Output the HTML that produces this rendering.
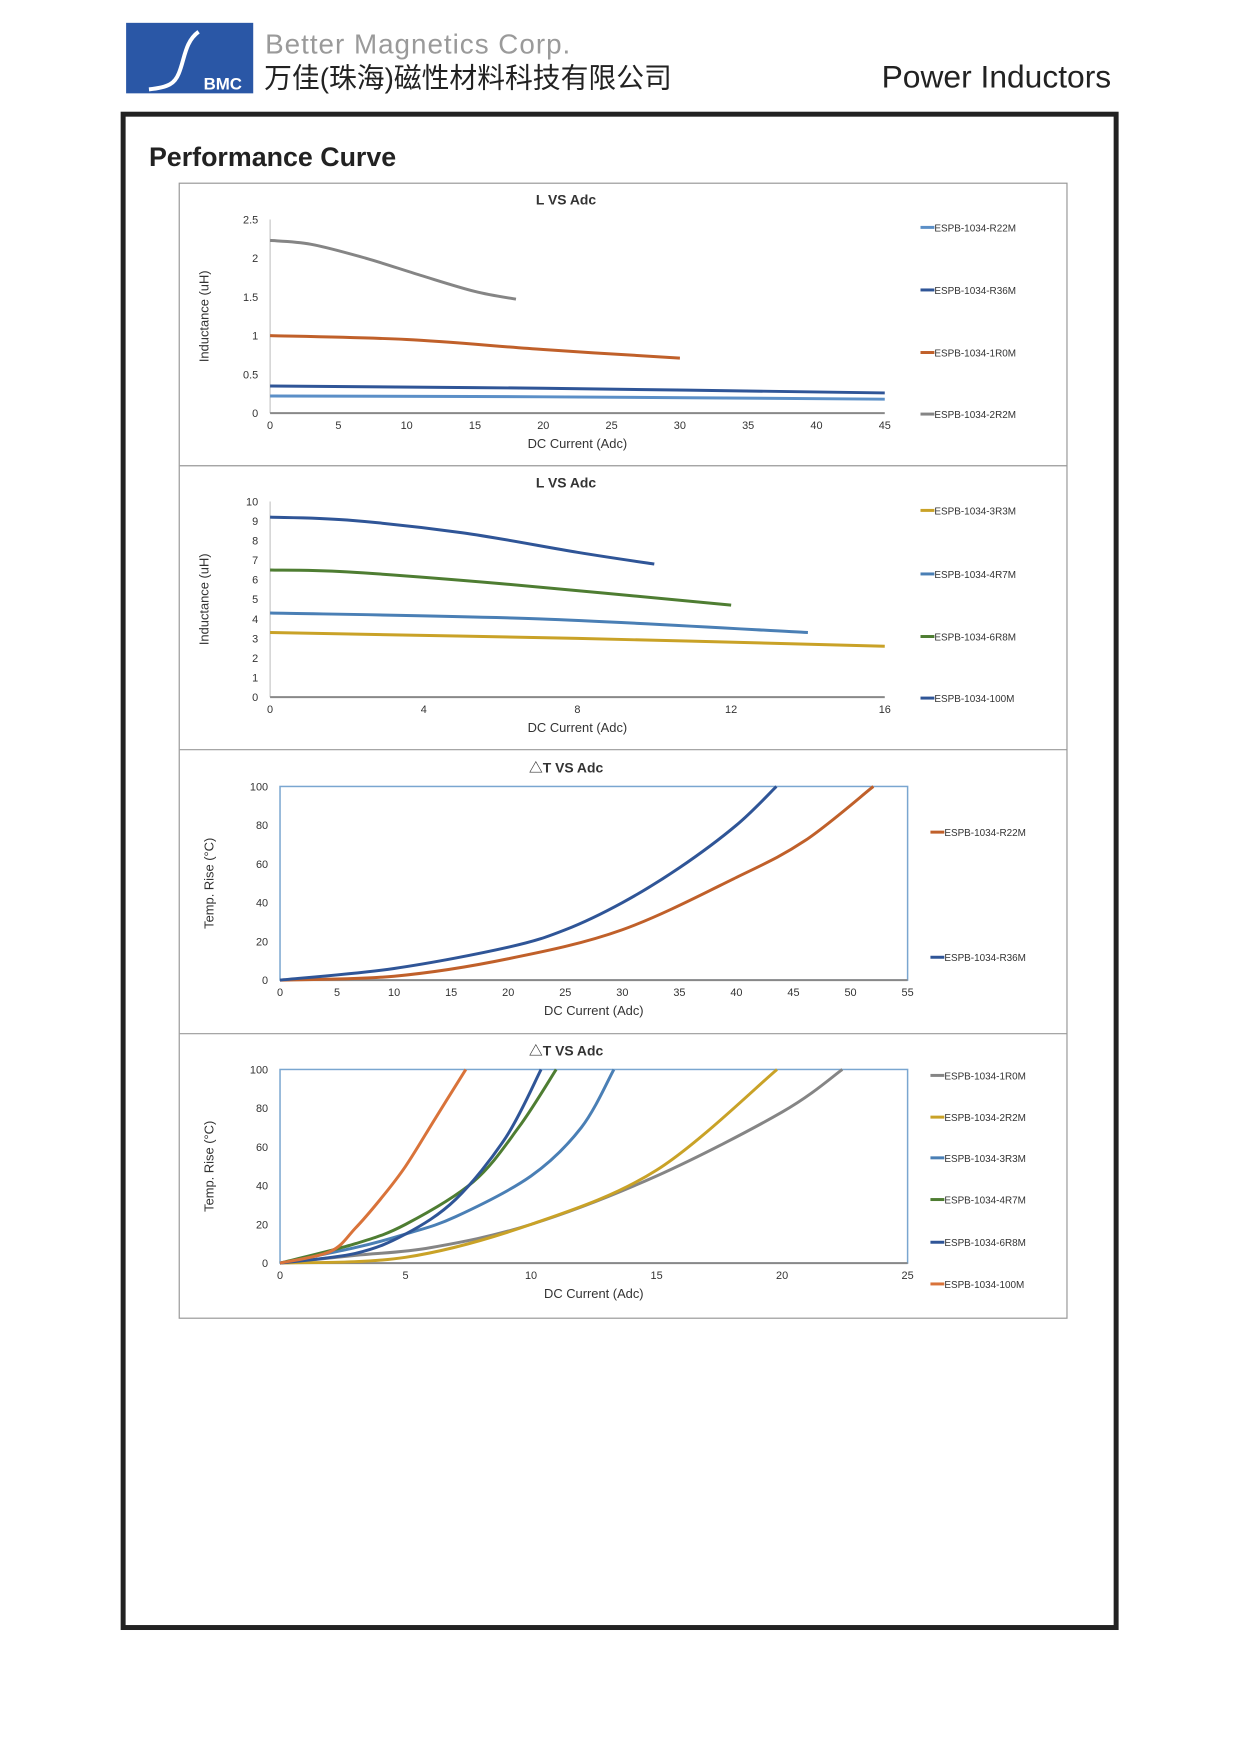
<!DOCTYPE html>
<html><head><meta charset="utf-8"><style>
html,body{margin:0;padding:0;background:#fff}
svg{display:block}
text{font-family:"Liberation Sans","Noto Sans CJK SC",sans-serif}
</style></head><body>
<svg id="s" width="1241" height="1755" viewBox="0 0 1241 1755" xmlns="http://www.w3.org/2000/svg">
<g transform="scale(0.993)">
<rect x="127" y="23" width="128" height="71" fill="#2a57a6"/>
<path d="M200 32 C186 42 186 60 180 74 C176 84 170 88 150 90" stroke="#fff" stroke-width="4" fill="none"/>
<text x="205" y="90" font-size="17" font-weight="bold" fill="#fff">BMC</text>
<text x="267" y="54" font-size="28" fill="#9a9a9a" letter-spacing="1">Better Magnetics Corp.</text>
<text x="266" y="88" font-size="28" fill="#222">万佳(珠海)磁性材料科技有限公司</text>
<text x="1119" y="88" font-size="32" fill="#222" text-anchor="end">Power Inductors</text>
<rect x="124" y="115" width="1000" height="1524" fill="none" stroke="#222" stroke-width="5"/>
<text x="150" y="167" font-size="27" font-weight="bold" fill="#222">Performance Curve</text>
<rect x="180.5" y="184.5" width="894" height="1143" fill="none" stroke="#999" stroke-width="1.2"/>
<line x1="181" y1="469" x2="1075" y2="469" stroke="#999" stroke-width="1.2"/>
<line x1="181" y1="755" x2="1075" y2="755" stroke="#999" stroke-width="1.2"/>
<line x1="181" y1="1041" x2="1075" y2="1041" stroke="#999" stroke-width="1.2"/>
<g id="g"></g>
</g>
</svg>
<script>
var g=document.getElementById('g'),h='';
function T(x,y,s,o){o=o||{};h+='<text x="'+x+'" y="'+y+'" font-size="'+(o.fs||12)+'" fill="'+(o.c||'#333')+'"'+(o.a?' text-anchor="'+o.a+'"':'')+(o.b?' font-weight="bold"':'')+(o.r?' transform="rotate(-90 '+x+' '+y+')"':'')+'>'+s+'</text>';}
function chart(c){
 var X=function(v){return c.x0+(v-c.xmin)/(c.xmax-c.xmin)*(c.x1-c.x0)},Y=function(v){return c.y0-(v)/(c.ymax)*(c.y0-c.y1)};
 if(c.box)h+='<rect x="'+c.x0+'" y="'+c.y1+'" width="'+(c.x1-c.x0)+'" height="'+(c.y0-c.y1)+'" fill="none" stroke="#7aa6d0" stroke-width="1.5"/>';
 else h+='<line x1="'+c.x0+'" y1="'+c.y1+'" x2="'+c.x0+'" y2="'+c.y0+'" stroke="#bbb"/>';
 h+='<line x1="'+c.x0+'" y1="'+c.y0+'" x2="'+c.x1+'" y2="'+c.y0+'" stroke="#888" stroke-width="2"/>';
 c.xt.forEach(function(v){T(X(v),c.y0+16,v,{a:'middle',fs:11});});
 c.yt.forEach(function(v){T(c.x0-12,Y(v)+4,v,{a:'end',fs:11});});
 T((c.x0+c.x1)/2,c.y0+35,'DC Current (Adc)',{a:'middle',fs:13});
 T(c.ylx,(c.y0+c.y1)/2,c.yl,{a:'middle',fs:13,r:1});
 T(c.tx,c.ty,c.title,{a:'middle',fs:14,b:1});
 c.s.forEach(function(s){
  var p=s.p,d='M'+X(p[0][0]).toFixed(1)+' '+Y(p[0][1]).toFixed(1);
  for(var i=0;i<p.length-1;i++){var a=p[i-1]||p[i],b=p[i],e=p[i+1],f=p[i+2]||e;
   var c1=[b[0]+(e[0]-a[0])/6,b[1]+(e[1]-a[1])/6],c2=[e[0]-(f[0]-b[0])/6,e[1]-(f[1]-b[1])/6];
   d+=' C'+X(c1[0]).toFixed(1)+' '+Y(c1[1]).toFixed(1)+' '+X(c2[0]).toFixed(1)+' '+Y(c2[1]).toFixed(1)+' '+X(e[0]).toFixed(1)+' '+Y(e[1]).toFixed(1);}
  h+='<path d="'+d+'" fill="none" stroke="'+s.c+'" stroke-width="3"/>';
 });
 c.leg.forEach(function(l,i){h+='<line x1="'+c.lx+'" y1="'+c.ly[i]+'" x2="'+(c.lx+14)+'" y2="'+c.ly[i]+'" stroke="'+l[1]+'" stroke-width="3"/>';T(c.lx+14,c.ly[i]+4,l[0],{fs:10});});
}
var B='#2f5597',LB='#5b8fc7',O='#c0602a',G='#858585',Y='#c9a227',GR='#4e7d32',M='#4a7fb5',O2='#d9733a';
chart({x0:272,x1:891,y0:416,y1:221,xmin:0,xmax:45,ymax:2.5,xt:[0,5,10,15,20,25,30,35,40,45],yt:[0,0.5,1,1.5,2,2.5],ylx:210,yl:'Inductance (uH)',tx:570,ty:206,title:'L VS Adc',
 s:[{c:LB,p:[[0,0.22],[20,0.21],[45,0.18]]},{c:B,p:[[0,0.35],[20,0.32],[45,0.26]]},{c:O,p:[[0,1.0],[10,0.95],[20,0.82],[30,0.71]]},{c:G,p:[[0,2.23],[3,2.18],[7,2.0],[11,1.78],[15,1.57],[18,1.47]]}],
 lx:927,leg:[['ESPB-1034-R22M',LB],['ESPB-1034-R36M',B],['ESPB-1034-1R0M',O],['ESPB-1034-2R2M',G]],ly:[229,292,355,417]});
chart({x0:272,x1:891,y0:702,y1:505,xmin:0,xmax:16,ymax:10,xt:[0,4,8,12,16],yt:[0,1,2,3,4,5,6,7,8,9,10],ylx:210,yl:'Inductance (uH)',tx:570,ty:491,title:'L VS Adc',
 s:[{c:Y,p:[[0,3.3],[8,3.0],[16,2.6]]},{c:M,p:[[0,4.3],[7,4.0],[14,3.3]]},{c:GR,p:[[0,6.5],[2,6.4],[6,5.8],[12,4.7]]},{c:B,p:[[0,9.2],[2,9.05],[5,8.4],[8,7.4],[10,6.8]]}],
 lx:927,leg:[['ESPB-1034-3R3M',Y],['ESPB-1034-4R7M',M],['ESPB-1034-6R8M',GR],['ESPB-1034-100M',B]],ly:[514,578,641,703]});
chart({box:1,x0:282,x1:914,y0:987,y1:792,xmin:0,xmax:55,ymax:100,xt:[0,5,10,15,20,25,30,35,40,45,50,55],yt:[0,20,40,60,80,100],ylx:215,yl:'Temp. Rise (°C)',tx:570,ty:778,title:'△T VS Adc',
 s:[{c:O,p:[[0,0],[10,2],[20,11],[30,26],[40,53],[46,72],[52,100]]},{c:B,p:[[0,0],[10,6],[20,17],[25,26],[30,40],[35,58],[40,80],[43.5,100]]}],
 lx:937,leg:[['ESPB-1034-R22M',O],['ESPB-1034-R36M',B]],ly:[838,964]});
chart({box:1,x0:282,x1:914,y0:1272,y1:1077,xmin:0,xmax:25,ymax:100,xt:[0,5,10,15,20,25],yt:[0,20,40,60,80,100],ylx:215,yl:'Temp. Rise (°C)',tx:570,ty:1063,title:'△T VS Adc',
 s:[{c:G,p:[[0,0],[3,4],[6,8],[10,20],[15,45],[20,78],[22.4,100]]},{c:Y,p:[[0,0],[5,3],[10,20],[15,48],[19.8,100]]},{c:M,p:[[0,0],[3,8],[5,15],[7,24],[10,45],[12,70],[13.3,100]]},{c:GR,p:[[0,0],[3,10],[5,20],[7.7,42],[9.5,70],[11,100]]},{c:B,p:[[0,0],[3,5],[5,15],[7,33],[9,65],[10.4,100]]},{c:O2,p:[[0,0],[2,6],[3,18],[4,33],[5,50],[6.2,75],[7.4,100]]}],
 lx:937,leg:[['ESPB-1034-1R0M',G],['ESPB-1034-2R2M',Y],['ESPB-1034-3R3M',M],['ESPB-1034-4R7M',GR],['ESPB-1034-6R8M',B],['ESPB-1034-100M',O2]],ly:[1083,1125,1166,1208,1251,1293]});
g.innerHTML=h;
</script>
</body></html>
